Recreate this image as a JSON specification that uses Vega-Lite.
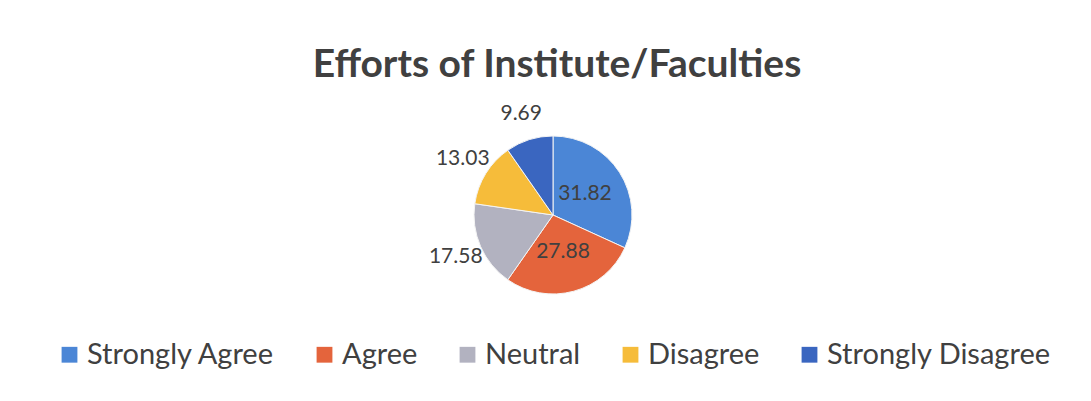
{
  "$schema": "https://vega.github.io/schema/vega-lite/v6.json",
  "autosize": "none",
  "width": 1076,
  "height": 372,
  "padding": {"left": 15, "top": 29, "right": 0, "bottom": 0},
  "background": "white",
  "title": {
    "text": "Efforts of Institute/Faculties",
    "font": "Lato",
    "fontSize": 39,
    "fontWeight": "bold",
    "color": "#404040",
    "anchor": "middle",
    "offset": 0,
    "dx": 4,
    "dy": 56
  },
  "data": {
    "values": [
      {"category": "Strongly Agree", "value": 31.82, "rank": 1},
      {"category": "Agree", "value": 27.88, "rank": 2},
      {"category": "Neutral", "value": 17.58, "rank": 3},
      {"category": "Disagree", "value": 13.03, "rank": 4},
      {"category": "Strongly Disagree", "value": 9.69, "rank": 5}
    ]
  },
  "encoding": {
    "theta": {"field": "value", "type": "quantitative", "stack": true},
    "order": {"field": "rank", "type": "quantitative", "sort": "ascending"},
    "color": {
      "field": "category",
      "type": "nominal",
      "sort": ["Strongly Agree", "Agree", "Neutral", "Disagree", "Strongly Disagree"],
      "scale": {
        "domain": ["Strongly Agree", "Agree", "Neutral", "Disagree", "Strongly Disagree"],
        "range": ["#4b86d6", "#e4643c", "#b2b2c0", "#f6bc3a", "#3a66c0"]
      },
      "legend": {
        "orient": "none",
        "legendX": 40,
        "legendY": 311,
        "direction": "horizontal",
        "title": null,
        "padding": 0,
        "symbolType": "square",
        "symbolSize": 250,
        "symbolStrokeWidth": 0,
        "labelFont": "Lato",
        "labelFontSize": 29,
        "labelColor": "#404040",
        "labelOffset": 3,
        "columnPadding": 35,
        "labelLimit": 400
      }
    }
  },
  "layer": [
    {
      "mark": {"type": "arc", "outerRadius": 79, "stroke": "#f4f4f4", "strokeWidth": 1}
    },
    {
      "mark": {"type": "text", "radius": 38, "font": "Lato", "fontSize": 21},
      "encoding": {
        "text": {"condition": {"test": "datum.value > 20", "field": "value", "type": "quantitative", "format": ".2f"}, "value": ""},
        "color": {"value": "#404040"}
      }
    },
    {
      "mark": {"type": "text", "radius": 106, "font": "Lato", "fontSize": 21},
      "encoding": {
        "text": {"condition": {"test": "datum.value <= 20", "field": "value", "type": "quantitative", "format": ".2f"}, "value": ""},
        "color": {"value": "#404040"}
      }
    }
  ]
}
